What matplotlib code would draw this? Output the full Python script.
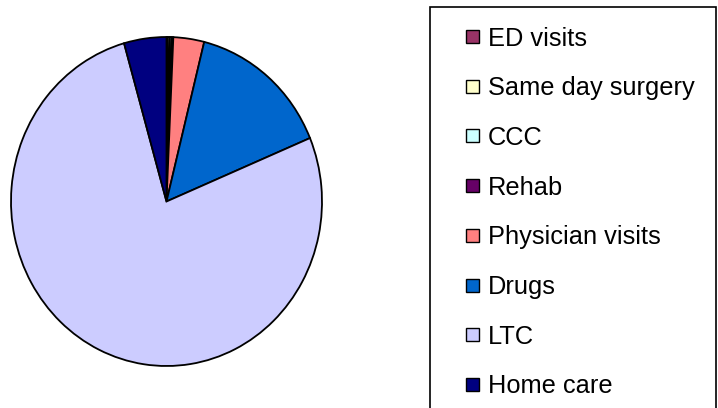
import matplotlib
matplotlib.use("Agg")
import matplotlib.pyplot as plt
from matplotlib.patches import Rectangle

categories = ["ED visits", "Same day surgery", "CCC", "Rehab",
              "Physician visits", "Drugs", "LTC", "Home care"]
values = [0.15, 0.2, 0.2, 0.15, 3.2, 14.8, 76.9, 4.4]
colors = ["#993366", "#FFFFCC", "#CCFFFF", "#660066",
          "#FF8080", "#0066CC", "#CCCCFF", "#000080"]

W, H = 718, 408
fig = plt.figure(figsize=(W / 100, H / 100), dpi=100)
fig.patch.set_facecolor("white")

# pie axes (pixel box: left 11, top 37, width 311, height 329)
ax = fig.add_axes([11 / W, (H - 366) / H, 311 / W, 329 / H])
ax.pie(values, colors=colors, startangle=90, counterclock=False,
       wedgeprops=dict(edgecolor="black", linewidth=1.3))
ax.set_aspect("auto")
ax.set_xlim(-1.0, 1.0)
ax.set_ylim(-1.0, 1.0)
ax.axis("off")

# legend drawn in figure pixel coords
def px(x, y):
    return x / W, (H - y) / H

frame = Rectangle(px(430, 420), 286 / W, 413 / H, transform=fig.transFigure,
                  facecolor="white", edgecolor="black", linewidth=1.2,
                  clip_on=False, zorder=0)
fig.patches.append(frame)

y0, dy = 36, 49.7
for i, (lab, col) in enumerate(zip(categories, colors)):
    yc = y0 + i * dy
    sq = Rectangle(px(466, yc + 7), 13 / W, 13 / H, transform=fig.transFigure,
                   facecolor=col, edgecolor="black", linewidth=1.0, zorder=2)
    fig.patches.append(sq)
    fig.text(488 / W, (H - yc) / H, lab, ha="left", va="center_baseline",
             fontsize=18.3, family="Liberation Sans", color="black")

fig.savefig("out.png", dpi=100)
